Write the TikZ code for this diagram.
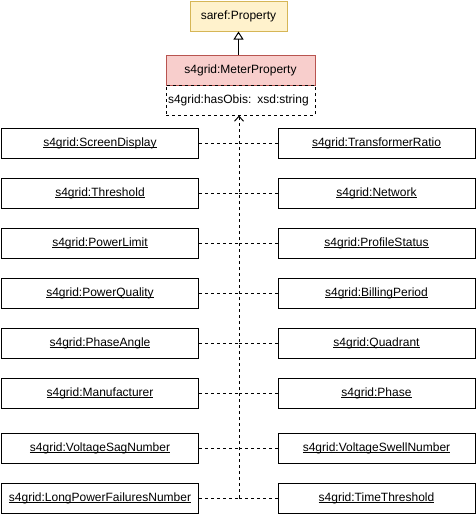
\documentclass[tikz,border=0pt]{standalone}
\usepackage{fontspec}
\setmainfont{Liberation Sans}
\usetikzlibrary{arrows.meta}

\definecolor{propfill}{HTML}{FFF2CC}
\definecolor{propline}{HTML}{D6B656}
\definecolor{meterfill}{HTML}{F8CECC}
\definecolor{meterline}{HTML}{B85450}

% underline close to the baseline
\newcommand{\ulname}[1]{\setbox0\hbox{#1}\rlap{\rule[-1.3pt]{\wd0}{0.8pt}}\box0}

\tikzset{
    cls/.style = {draw, line width=1pt, minimum width=197pt, minimum height=30pt,
                  inner sep=0pt, font=\fontsize{12}{14}\selectfont},
    dep/.style = {line width=1pt, dash pattern=on 3pt off 3pt},
}

\begin{document}
\begin{tikzpicture}[x=1pt, y=-1pt]
    \useasboundingbox (0,0) rectangle (476,514);

    \node (prop) at (238.5,16) [cls, minimum width=97pt, fill=propfill, draw=propline] {saref:Property};
    \node (meter) at (240.5,70) [cls, minimum width=149pt, fill=meterfill, draw=meterline] {s4grid:MeterProperty};
    \node (attr) at (240.5,100) [cls, minimum width=149pt, dash pattern=on 3pt off 3pt,
        inner xsep=2pt, text width=145pt, align=left] {s4grid:hasObis: xsd:string};

    \draw [line width=1pt, -{Triangle[open, length=8pt, width=10pt]}]
        (prop.south |- meter.north) -- (prop.south);

    \foreach \ii/\yy/\ll/\rr in {1/143/ScreenDisplay/TransformerRatio,
                                 2/193/Threshold/Network,
                                 3/243/PowerLimit/ProfileStatus,
                                 4/293/PowerQuality/BillingPeriod,
                                 5/343/PhaseAngle/Quadrant,
                                 6/393/Manufacturer/Phase,
                                 7/448/VoltageSagNumber/VoltageSwellNumber,
                                 8/498/LongPowerFailuresNumber/TimeThreshold}
    {
        \node (l\ii) at (100,\yy) [cls] {\ulname{s4grid:\ll}};
        \node (r\ii) at (376.5,\yy) [cls] {\ulname{s4grid:\rr}};
    }

    \coordinate (spine) at (239,498);
    \draw [dep, -{Straight Barb[length=5pt, width=9pt]}] (spine) -- (spine |- attr.south);

    \foreach \ii in {1,...,8}
    {
        \draw [dep] (l\ii.east) -- (l\ii.east -| spine);
        \draw [dep] (r\ii.west) -- (r\ii.west -| spine);
    }

\end{tikzpicture}
\end{document}
